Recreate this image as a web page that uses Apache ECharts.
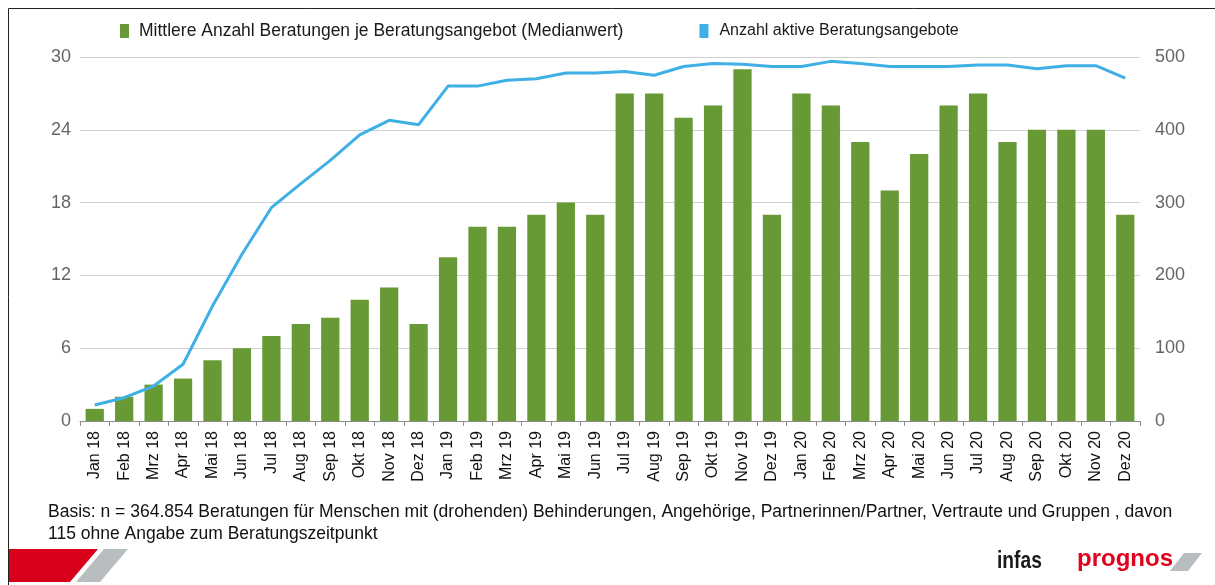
<!DOCTYPE html>
<html>
<head>
<meta charset="utf-8">
<script src="https://cdn.jsdelivr.net/npm/echarts@6/dist/echarts.min.js"></script>
<style>
  html, body { margin: 0; padding: 0; background: #fff; }
  #chart { width: 1215px; height: 585px; }
</style>
</head>
<body>
<div id="chart"></div>
<script>
// months, Jan 18 .. Dez 20
var months = [
    "Jan 18", "Feb 18", "Mrz 18", "Apr 18", "Mai 18", "Jun 18", "Jul 18", "Aug 18", "Sep 18", "Okt 18", "Nov 18", "Dez 18",
    "Jan 19", "Feb 19", "Mrz 19", "Apr 19", "Mai 19", "Jun 19", "Jul 19", "Aug 19", "Sep 19", "Okt 19", "Nov 19", "Dez 19",
    "Jan 20", "Feb 20", "Mrz 20", "Apr 20", "Mai 20", "Jun 20", "Jul 20", "Aug 20", "Sep 20", "Okt 20", "Nov 20", "Dez 20"
];

// Mittlere Anzahl Beratungen je Beratungsangebot (Median) - left axis
var medianBeratungen = [
    1, 2, 3, 3.5, 5, 6, 7, 8, 8.5, 10, 11, 8,
    13.5, 16, 16, 17, 18, 17, 27, 27, 25, 26, 29, 17,
    27, 26, 23, 19, 22, 26, 27, 23, 24, 24, 24, 17
];

// Anzahl aktive Beratungsangebote - right axis
var aktiveAngebote = [
    22, 32, 48, 78, 158, 229, 293, 326, 358, 393, 413, 407,
    460, 460, 468, 470, 478, 478, 480, 475, 487, 491, 490, 487,
    487, 494, 491, 487, 487, 487, 489, 489, 484, 488, 488, 471
];

var leftTicks = { min: 0, max: 30, interval: 6 };
var rightTicks = { min: 0, max: 500, interval: 100 };

var barName = "Mittlere Anzahl Beratungen je Beratungsangebot (Medianwert)";
var lineName = "Anzahl aktive Beratungsangebote";

var footnote = "Basis: n = 364.854 Beratungen für Menschen mit (drohenden) Behinderungen, Angehörige, Partnerinnen/Partner, Vertraute und Gruppen , davon\n115 ohne Angabe zum Beratungszeitpunkt";

var font = "Arial, 'Liberation Sans', sans-serif";

var myChart = echarts.init(document.getElementById("chart"));
var option = {
    backgroundColor: "#fff",
    animation: false,
    textStyle: { fontFamily: font },
    legend: {
        left: 115,
        top: 17,
        itemWidth: 9,
        itemHeight: 14,
        itemGap: 76,
        icon: "rect",
        textStyle: { fontSize: 17.5, color: "#1a1a1a", fontFamily: font, padding: [0, 0, 0, 5] },
        data: [
            { name: barName },
            { name: lineName, textStyle: { fontSize: 16, color: "#1a1a1a", fontFamily: font, padding: [0, 0, 0, 6] } }
        ]
    },
    grid: { left: 80, right: 75, top: 57, bottom: 164 },
    xAxis: {
        type: "category",
        data: months,
        axisLine: { lineStyle: { color: "#8c8c8c", width: 1 } },
        axisTick: { show: true, length: 5, lineStyle: { color: "#8c8c8c" } },
        axisLabel: {
            rotate: 90,
            interval: 0,
            margin: 10,
            fontSize: 16,
            color: "#111",
            fontFamily: font
        }
    },
    yAxis: [
        {
            type: "value",
            min: leftTicks.min,
            max: leftTicks.max,
            interval: leftTicks.interval,
            axisLine: { show: false },
            axisTick: { show: false },
            axisLabel: { fontSize: 18, color: "#666", margin: 9, fontFamily: font },
            splitLine: { lineStyle: { color: "#d0d0d0", width: 1 } }
        },
        {
            type: "value",
            min: rightTicks.min,
            max: rightTicks.max,
            interval: rightTicks.interval,
            axisLine: { show: false },
            axisTick: { show: false },
            axisLabel: { fontSize: 18, color: "#666", margin: 15, fontFamily: font },
            splitLine: { show: false }
        }
    ],
    series: [
        {
            name: barName,
            type: "bar",
            yAxisIndex: 0,
            data: medianBeratungen,
            barWidth: "62%",
            itemStyle: { color: "#679a34" }
        },
        {
            name: lineName,
            type: "line",
            yAxisIndex: 1,
            data: aktiveAngebote,
            symbol: "none",
            lineStyle: { color: "#3fb0e6", width: 3 },
            itemStyle: { color: "#3fb0e6" },
            z: 5
        }
    ],
    graphic: [
        // frame
        { type: "polyline", shape: { points: [[8.5, 585], [8.5, 8.5], [1215, 8.5]] }, style: { stroke: "#222", lineWidth: 1, fill: null } },
        // footnote
        {
            type: "text", left: 48, top: 501,
            style: { text: footnote, font: "17.5px " + font, fill: "#111", lineHeight: 22 }
        },
        // decorative stripes bottom-left
        { type: "polygon", shape: { points: [[9, 549], [98, 549], [70, 582], [9, 582]] }, style: { fill: "#d9001b" } },
        { type: "polygon", shape: { points: [[104, 549], [128, 549], [100, 582], [76, 582]] }, style: { fill: "#b8bec0" } },
        // logos bottom-right
        {
            type: "text", x: 997, y: 549, scaleX: 0.8,
            style: { text: "infas", font: "bold 24px " + font, fill: "#1a1a1a" }
        },
        {
            type: "text", x: 1077, y: 547,
            style: { text: "prognos", font: "bold 24px " + font, fill: "#e3001b" }
        },
        { type: "polygon", shape: { points: [[1184, 553], [1202, 553], [1188, 571], [1170, 571]] }, style: { fill: "#b8bec0" } }
    ]
};

myChart.setOption(option);
</script>
</body>
</html>
